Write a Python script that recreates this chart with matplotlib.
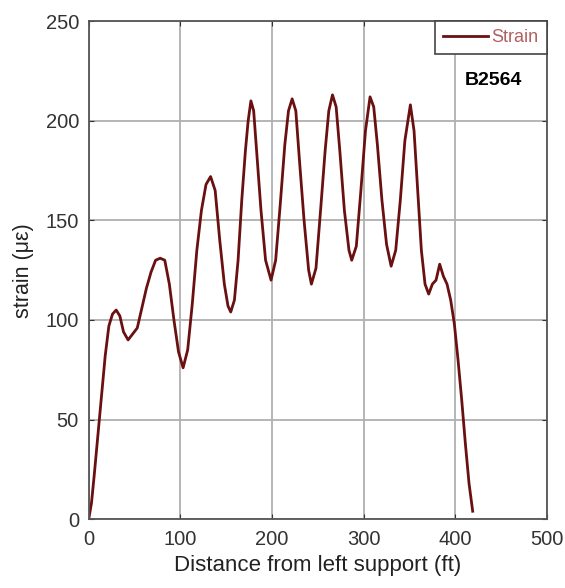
import numpy as np
import matplotlib
matplotlib.use('Agg')
import matplotlib.pyplot as plt

plt.rcParams['font.family'] = ['Liberation Sans', 'DejaVu Sans']

# distance along the beam (ft) and measured strain (micro-strain)
distance = [0, 3, 6, 10, 14, 18, 22, 26, 30, 34, 38, 43, 48, 53, 58, 63, 68, 73, 78, 83,
            88, 93, 98, 103, 108, 113, 118, 123, 128, 133, 138, 143, 148, 152, 155, 159,
            163, 167, 171, 174, 177, 180, 184, 188, 193, 199, 204, 209, 214, 218, 222,
            226, 230, 235, 240, 243, 248, 253, 258, 262, 266, 270, 274, 279, 284, 287,
            292, 297, 302, 307, 311, 315, 320, 325, 330, 335, 340, 345, 351, 355, 359,
            363, 367, 371, 375, 379, 383, 387, 391, 395, 399, 403, 407, 411, 415, 419]
strain = [0, 8, 22, 42, 62, 82, 97, 103, 105, 102, 94, 90, 93, 96, 106, 116, 124, 130, 131, 130,
          118, 100, 84, 76, 85, 108, 135, 155, 168, 172, 165, 140, 118, 107, 104, 110,
          130, 160, 185, 200, 210, 205, 180, 155, 130, 120, 130, 158, 188, 205, 211,
          205, 180, 150, 125, 118, 126, 155, 185, 205, 213, 207, 185, 155, 135, 130,
          137, 165, 195, 212, 207, 188, 160, 138, 127, 135, 160, 190, 208, 195, 165,
          135, 118, 113, 118, 120, 128, 122, 118, 110, 98, 80, 60, 38, 18, 4]

xticks = [0, 100, 200, 300, 400, 500]
yticks = [0, 50, 100, 150, 200, 250]

fig = plt.figure(figsize=(5.65, 5.88), dpi=100)
ax = fig.add_axes([0.157, 0.117, 0.811, 0.847])

ax.plot(distance, strain, color='#6a1010', lw=2.0, label='Strain')

ax.set_xlim(0, 500)
ax.set_ylim(0, 250)
ax.set_xticks(xticks)
ax.set_yticks(yticks)
ax.grid(True, color='#b0b0b0', lw=1.3)
ax.tick_params(direction='in', top=True, right=True, labelsize=14.5, colors='#333333')
ax.tick_params(axis='x', pad=8)
ax.tick_params(axis='y', pad=7)
for s in ax.spines.values():
    s.set_color('#555555')
    s.set_linewidth(1.3)

ax.set_xlabel('Distance from left support (ft)', fontsize=16, color='#222222', labelpad=4)
ax.set_ylabel('strain (\u03bc\u03b5)', fontsize=15.5, color='#222222', labelpad=8)

leg = ax.legend(loc='upper right', borderaxespad=0, fancybox=False, framealpha=1,
                edgecolor='#444444', fontsize=13, handlelength=2.5, handletextpad=0.2,
                borderpad=0.45, labelcolor='#b06060')
leg.get_frame().set_linewidth(1.2)

ax.text(442, 220, 'B2564', fontsize=14, fontweight='bold', ha='center', va='center')

fig.savefig('out.png', dpi=100)
